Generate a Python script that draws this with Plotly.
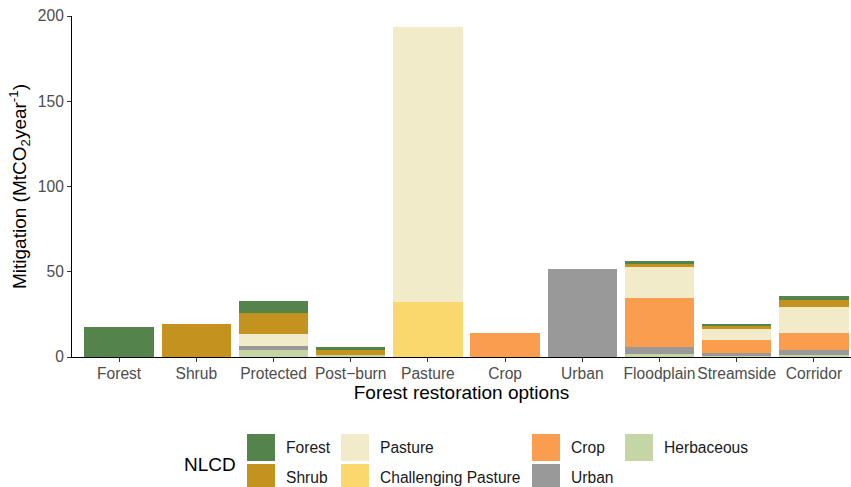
import plotly.graph_objects as go

# Restoration options on the x axis
options = ["Forest", "Shrub", "Protected", "Post\u2212burn", "Pasture", "Crop",
           "Urban", "Floodplain", "Streamside", "Corridor"]

# Mitigation (MtCO2 per year) by current NLCD land cover class
forest = [17.5, 0, 7.1, 1.8, 0, 0, 0, 1.8, 1.2, 2.4]
shrub = [0, 19.2, 12.4, 2.8, 0, 0, 0, 1.8, 1.8, 3.6]
pasture = [0, 0, 7.1, 0, 161.0, 0, 0, 17.8, 6.5, 15.4]
challenging_pasture = [0, 0, 0, 0, 32.4, 0, 0, 0, 0, 0]
crop = [0, 0, 0, 0, 0, 13.9, 0, 29.0, 7.7, 10.0]
urban = [0, 0, 2.4, 0, 0, 0, 51.8, 4.1, 1.8, 3.0]
herbaceous = [0, 0, 4.1, 1.4, 0, 0, 0, 1.8, 0.6, 1.2]

classes = ["Forest", "Shrub", "Pasture", "Challenging Pasture", "Crop", "Urban", "Herbaceous"]
values = [forest, shrub, pasture, challenging_pasture, crop, urban, herbaceous]
colors = ["#54844C", "#C3921F", "#F2EBCA", "#FBD86E", "#FA9D4F", "#999999", "#C5D5A4"]

FONT = "Liberation Sans, Arial, sans-serif"
W, H = 851, 487
L, R, T, B = 72, 0, 16, 130

fig = go.Figure()
# ggplot-style stacking: first class ends up on top
for name, vals, col in reversed(list(zip(classes, values, colors))):
    fig.add_trace(go.Bar(x=options, y=vals, name=name, marker_color=col,
                         marker_line_width=0, showlegend=False))

fig.update_layout(
    width=W, height=H,
    margin=dict(l=L, r=R, t=T, b=B),
    barmode="stack", bargap=0.1,
    plot_bgcolor="white", paper_bgcolor="white",
    font=dict(family=FONT, size=15.6, color="#4D4D4D"),
)
fig.update_xaxes(
    range=[-0.61, 9.48], showline=True, linecolor="black", linewidth=1.1,
    ticks="outside", ticklen=4, tickcolor="#333333", tickwidth=1.1,
    tickangle=0, automargin=False, ticklabelstandoff=-2,
    tickfont=dict(size=15.6, color="#4D4D4D"),
    title=dict(text="Forest restoration options", font=dict(size=19, color="black"), standoff=0),
)
fig.update_yaxes(
    range=[0, 200], tickvals=[0, 50, 100, 150, 200], showgrid=False, zeroline=False,
    showline=True, linecolor="black", linewidth=1.1,
    ticks="outside", ticklen=4, tickcolor="#333333", tickwidth=1.1,
    automargin=False,
    tickfont=dict(size=15.6, color="#4D4D4D"),
    title=dict(text="Mitigation (MtCO<sub>2</sub>year<sup>-1</sup>)",
               font=dict(size=19, color="black"), standoff=6),
)

# Legend drawn as keys + labels below the plot
pw, ph = W - L - R, H - T - B


def px(x):
    return (x - L) / pw


def py(y):
    return (H - B - y) / ph


key_w, key_h = 28, 27
col_x = [247, 341, 532, 625]
row_y = [434, 464]
label_gap = 9
for i, (name, col) in enumerate(zip(classes, colors)):
    c, r = divmod(i, 2)
    x0, y0 = col_x[c], row_y[r]
    fig.add_shape(type="rect", xref="paper", yref="paper",
                  x0=px(x0), x1=px(x0 + key_w), y0=py(y0 + key_h), y1=py(y0),
                  fillcolor=col, line_width=0)
    fig.add_annotation(xref="paper", yref="paper", x=px(x0 + key_w + label_gap),
                       y=py(y0 + key_h / 2), text=name, showarrow=False,
                       xanchor="left", yanchor="middle",
                       font=dict(size=15.6, color="#1A1A1A", family=FONT))
fig.add_annotation(xref="paper", yref="paper", x=px(182), y=py(464), text="NLCD",
                   showarrow=False, xanchor="left", yanchor="middle",
                   font=dict(size=19, color="black", family=FONT))

fig.write_html("out.html")
